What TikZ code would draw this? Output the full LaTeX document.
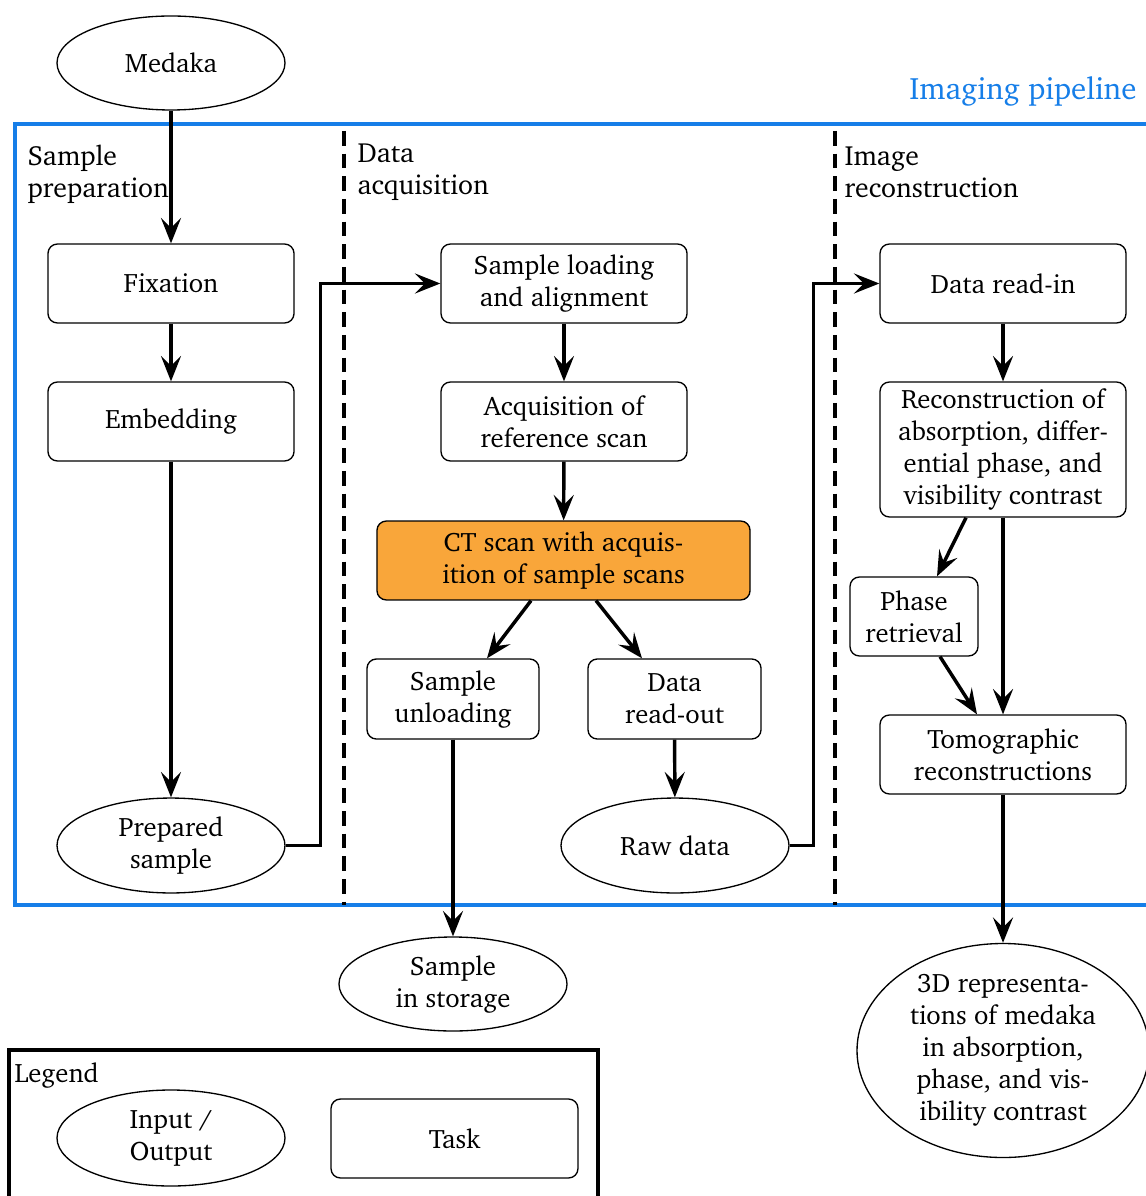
\documentclass[tikz,border=0pt]{standalone}
\usepackage[T1]{fontenc}
\renewcommand{\rmdefault}{bch}
\usetikzlibrary{shapes.geometric,arrows.meta,calc}
\definecolor{pipeblue}{RGB}{22,126,232}
\definecolor{ctorange}{RGB}{249,166,58}
\begin{document}
\begin{tikzpicture}[x=0.375pt,y=-0.375pt,
  task/.style={draw, rounded corners=3.5pt, line width=0.5pt, align=center,
    minimum width=92.25pt, minimum height=29.6pt, inner sep=2pt},
  io/.style={draw, ellipse, line width=0.5pt, align=center,
    minimum width=85.5pt, minimum height=35.6pt, inner sep=0pt},
  conn/.style={line width=1.3pt, -{Stealth[length=9.5pt,width=7.5pt,inset=3.7pt]}},
  sepline/.style={line width=1.2pt, dash pattern=on 5.5pt off 3pt},
  heading/.style={anchor=north west, align=left, inner sep=0pt, font=\fontsize{10.4}{12}\selectfont},
  ]
\useasboundingbox (0,0) rectangle (1145,1196);

% frames
\draw[pipeblue, line width=1.4pt] (15,124) rectangle (1160,905);
\node[anchor=base east, inner sep=0pt, text=pipeblue, font=\fontsize{11.6}{14}\selectfont] (pipelabel) at (1137,100) {Imaging pipeline};
\coordinate (s1top) at (344,131);
\coordinate (s1bot) at (344,905);
\coordinate (s2top) at (835,131);
\coordinate (s2bot) at (835,905);
\draw[sepline] (s1top) -- (s1bot);
\draw[sepline] (s2top) -- (s2bot);

\node[heading] (h1) at (27,144) {Sample\\preparation};
\node[heading] (h2) at (357,143) {Data\\acquisition};
\node[heading] (h3) at (844,146) {Image\\reconstruction};

% nodes
\node[io, minimum height=35.25pt] (medaka) at (171,63) {Medaka};
\node[task] (fix) at (171,283.5) {Fixation};
\node[task] (emb) at (171,421.5) {Embedding};
\node[io] (prep) at (171,845.5) {Prepared\\sample};

\node[task] (load) at (564,283.5) {Sample loading\\and alignment};
\node[task] (ref) at (564,421.5) {Acquisition of\\reference scan};
\node[task, fill=ctorange, minimum width=139.9pt] (ct) at (563.5,560.5) {CT scan with acquis-\\ition of sample scans};
\node[task, minimum width=64.5pt, minimum height=30pt] (unload) at (453,699) {Sample\\unloading};
\node[task, minimum width=64.9pt, minimum height=30pt] (readout) at (674.5,699) {Data\\read-out};
\node[io] (raw) at (675,845.5) {Raw data};
\node[io, minimum height=35.25pt] (storage) at (453,984) {Sample\\in storage};

\node[task] (readin) at (1003,283.5) {Data read-in};
\node[task, minimum height=50.6pt] (recon) at (1003,449.5) {Reconstruction of\\absorption, differ-\\ential phase, and\\visibility contrast};
\node[task, minimum width=48pt] (phase) at (914,616.5) {Phase\\retrieval};
\node[task] (tomo) at (1003,754.5) {Tomographic\\reconstructions};
\node[io, minimum width=109.5pt, minimum height=80.25pt, inner ysep=-4pt] (rep) at (1003,1050.5) {3D representa-\\tions of medaka\\in absorption,\\phase, and vis-\\ibility contrast};

% connectors
\draw[conn] (medaka) -- (fix);
\draw[conn] (fix) -- (emb);
\draw[conn] (emb) -- (prep);
\draw[conn] (prep.east) -- ++(35,0) |- (load.west);
\draw[conn] (load) -- (ref);
\draw[conn] (ref) -- (ct);
\draw[conn] ($(ct.south)+(-32.5,0)$) -- ($(unload.north)+(34,0)$);
\draw[conn] ($(ct.south)+(32.5,0)$) -- ($(readout.north)+(-32.5,0)$);
\draw[conn] (unload) -- (storage);
\draw[conn] (readout) -- (raw);
\draw[conn] (raw.east) -- ++(24,0) |- (readin.west);
\draw[conn] (readin) -- (recon);
\draw[conn] ($(recon.south)+(-37,0)$) -- ($(phase.north)+(23,0)$);
\draw[conn] (recon) -- (tomo);
\draw[conn] ($(phase.south)+(26,0)$) -- ($(tomo.north)+(-26,0)$);
\draw[conn] (tomo) -- (rep);

% legend
\draw[line width=1.3pt] (9,1050) rectangle (598,1210);
\node[anchor=base west, inner sep=0pt] (legtitle) at (14,1082) {Legend};
\node[io, minimum height=36pt] (legio) at (171,1138) {Input /\\Output};
\node[task, minimum width=92.6pt] (legtask) at (454.5,1138.5) {Task};
\end{tikzpicture}
\end{document}
